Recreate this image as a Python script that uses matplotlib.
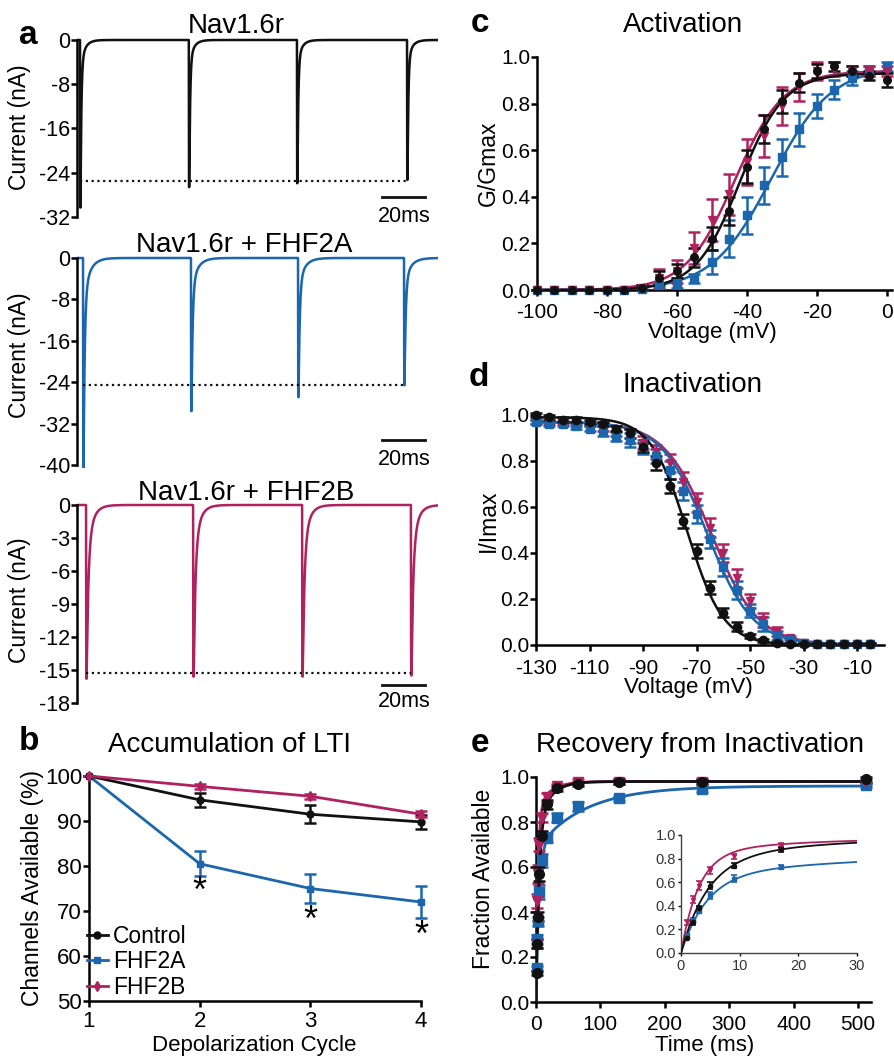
import numpy as np
import matplotlib
matplotlib.use("Agg")
import matplotlib.pyplot as plt
from matplotlib.lines import Line2D

plt.rcParams['font.family'] = ['Liberation Sans', 'DejaVu Sans']
plt.rcParams['axes.unicode_minus'] = False

W, H = 895, 1057
NEGRO = '#111111'
AZUL = '#1b66ad'
ROJO = '#b0225f'

# ---- a: trazos de corriente (ms, nA)
t_fin = 168
pulsos_ctrl = [1.4, 52.0, 102.3, 153.5]
picos_ctrl = [-30.3, -26.6, -25.9, -25.3]
pulsos_2a = [2.8, 53.0, 102.8, 152.1]
picos_2a = [-40.6, -29.6, -26.9, -24.6]
pulsos_2b = [4.2, 54.0, 104.7, 155.3]
picos_2b = [-15.8, -15.6, -15.6, -15.5]
nivel_ctrl, nivel_2a, nivel_2b = -25.5, -24.6, -15.3
# tau rapida, tau lenta, fraccion lenta
cinetica_ctrl = (0.4, 2.0, 0.10)
cinetica_2a = (0.55, 2.8, 0.14)
cinetica_2b = (0.8, 2.6, 0.22)

# ---- b: acumulacion de LTI
ciclos = [1, 2, 3, 4]
lti_ctrl = [100, 94.7, 91.5, 89.8]
lti_ctrl_err = [0, 1.5, 2.0, 1.5]
lti_2a = [100, 80.5, 75.0, 72.0]
lti_2a_err = [0, 2.8, 3.2, 3.5]
lti_2b = [100, 97.7, 95.5, 91.5]
lti_2b_err = [0, 0.5, 0.5, 0.7]
estrellas = [(2, 76.2), (3, 69.8), (4, 66.4)]

# ---- c: activacion
volt_act = list(range(-100, 5, 5))
act_ctrl = [0, 0, 0, 0, 0, 0, 0.01, 0.05, 0.08, 0.14, 0.22, 0.34, 0.53, 0.69, 0.81, 0.89, 0.94, 0.96, 0.94, 0.92, 0.90]
act_2a = [0, 0, 0, 0, 0, 0, 0.005, 0.02, 0.03, 0.05, 0.12, 0.22, 0.32, 0.45, 0.57, 0.69, 0.79, 0.86, 0.91, 0.94, 0.96]
act_2b = [0, 0, 0, 0, 0, 0, 0.01, 0.05, 0.08, 0.18, 0.30, 0.41, 0.55, 0.66, 0.79, 0.87, 0.94, 0.95, 0.94, 0.94, 0.94]
act_ctrl_err = [0]*6 + [0.01, 0.03, 0.03, 0.04, 0.05, 0.06, 0.07, 0.06, 0.05, 0.04, 0.03, 0.02, 0.02, 0.02, 0.03]
act_2a_err = [0]*6 + [0.005, 0.01, 0.02, 0.02, 0.05, 0.08, 0.08, 0.08, 0.08, 0.07, 0.05, 0.04, 0.03, 0.02, 0.02]
act_2b_err = [0]*6 + [0.01, 0.04, 0.05, 0.07, 0.09, 0.09, 0.10, 0.09, 0.08, 0.06, 0.04, 0.03, 0.02, 0.02, 0.02]
# Boltzmann: (max, V1/2, k)
ajuste_act_ctrl = (0.93, -42.0, 6.3)
ajuste_act_2a = (0.96, -33.0, 8.5)
ajuste_act_2b = (0.94, -43.5, 7.0)

# ---- d: inactivacion
volt_inact = list(range(-130, 0, 5))
inact_ctrl = [1.0, 0.99, 0.98, 0.98, 0.97, 0.96, 0.94, 0.92, 0.86, 0.79, 0.69, 0.54, 0.41, 0.25, 0.14, 0.08, 0.04, 0.02, 0.01, 0.005, 0.005, 0.005, 0.005, 0.005, 0.005, 0.005]
inact_2a = [0.97, 0.96, 0.96, 0.95, 0.94, 0.93, 0.905, 0.89, 0.86, 0.82, 0.76, 0.67, 0.57, 0.46, 0.34, 0.24, 0.15, 0.09, 0.04, 0.02, 0.01, 0.005, 0.005, 0.005, 0.005, 0.005]
inact_2b = [0.97, 0.97, 0.97, 0.96, 0.96, 0.95, 0.93, 0.91, 0.88, 0.84, 0.79, 0.71, 0.62, 0.51, 0.40, 0.29, 0.19, 0.11, 0.06, 0.03, 0.01, 0.005, 0.005, 0.005, 0.005, 0.005]
inact_ctrl_err = [0.01]*7 + [0.02, 0.02, 0.03, 0.03, 0.03, 0.03, 0.03, 0.02, 0.02, 0.01] + [0.005]*9
inact_2a_err = [0.01]*5 + [0.02, 0.02, 0.03, 0.03, 0.03, 0.04, 0.04, 0.04, 0.04, 0.04, 0.04, 0.03, 0.03, 0.02, 0.01] + [0.005]*6
inact_2b_err = [0.01]*5 + [0.02, 0.02, 0.03, 0.03, 0.03, 0.04, 0.04, 0.04, 0.04, 0.04, 0.04, 0.03, 0.03, 0.02, 0.01] + [0.005]*6
ajuste_inact_ctrl = (0.99, -73.5, 6.8)
ajuste_inact_2a = (0.97, -66.0, 8.5)
ajuste_inact_2b = (0.97, -64.5, 8.8)

# ---- e: recuperacion
tiempos_rec = [1, 2, 3, 5, 9, 17, 33, 65, 129, 257, 513]
rec_ctrl = [0.13, 0.26, 0.38, 0.57, 0.74, 0.88, 0.95, 0.97, 0.98, 0.98, 0.99]
rec_2a = [0.15, 0.28, 0.36, 0.49, 0.63, 0.73, 0.82, 0.87, 0.905, 0.945, 0.965]
rec_2b = [0.26, 0.45, 0.57, 0.70, 0.82, 0.91, 0.96, 0.98, 0.98, 0.98, 0.98]
rec_ctrl_err = [0.01, 0.02, 0.02, 0.03, 0.02, 0.02, 0.01, 0.01, 0.01, 0.01, 0.01]
rec_2a_err = [0.01, 0.02, 0.02, 0.03, 0.03, 0.02, 0.02, 0.02, 0.01, 0.01, 0.01]
rec_2b_err = [0.02, 0.03, 0.04, 0.03, 0.02, 0.02, 0.01, 0.01, 0.01, 0.01, 0.01]
# (a1, tau1, a2, tau2)
ajuste_rec_ctrl = (0.78, 4.5, 0.20, 20.0)
ajuste_rec_2a = (0.68, 4.5, 0.28, 75.0)
ajuste_rec_2b = (0.85, 3.0, 0.13, 20.0)

FS_TICK = 15
FS_XLAB = 16
FS_YLAB = 16.5
FS_TIT = 20

fig = plt.figure(figsize=(W / 100, H / 100), dpi=100)


def ubicar(xa, xb, pxa, pxb, ya, yb, pya, pyb, xlim, ylim):
    sx = (pxb - pxa) / (xb - xa)
    sy = (pyb - pya) / (yb - ya)
    izq = pxa + (xlim[0] - xa) * sx
    der = pxa + (xlim[1] - xa) * sx
    abajo = pya + (ylim[0] - ya) * sy
    arriba = pya + (ylim[1] - ya) * sy
    ax = fig.add_axes([izq / W, 1 - abajo / H, (der - izq) / W, (abajo - arriba) / H])
    ax.set_xlim(xlim)
    ax.set_ylim(ylim)
    return ax


def estilo(ax, lw=1.6, fs=FS_TICK, largo=4, pad=1, padx=None):
    ax.patch.set_alpha(0)
    for s in ['top', 'right']:
        ax.spines[s].set_visible(False)
    for s in ['left', 'bottom']:
        ax.spines[s].set_linewidth(lw)
    ax.tick_params(direction='out', length=largo, width=lw, labelsize=fs, pad=pad)
    if padx is not None:
        ax.tick_params(axis='x', pad=padx)


def texto(px, py, s, **kw):
    fig.text(px / W, 1 - py / H, s, **kw)


def trazo(pulsos, picos, cin):
    t = np.arange(0, t_fin, 0.01)
    i = np.zeros_like(t)
    tf, ts, fs = cin
    for t0, pk in zip(pulsos, picos):
        d = t[t > t0] - t0
        forma = (1 - np.exp(-d / 0.08)) * ((1 - fs) * np.exp(-d / tf) + fs * np.exp(-d / ts))
        i[t > t0] += pk * forma / forma.max()
    return t, i


def boltz_act(v, p):
    return p[0] / (1 + np.exp((p[1] - v) / p[2]))


def boltz_inact(v, p):
    return p[0] / (1 + np.exp((v - p[1]) / p[2]))


def biexp(t, p):
    return p[0] * (1 - np.exp(-t / p[1])) + p[2] * (1 - np.exp(-t / p[3]))


# ================= a =================
trazos = [
    (pulsos_ctrl, picos_ctrl, cinetica_ctrl, nivel_ctrl, NEGRO, (40, 217, -32), (-32.6, 0.8), [0, -8, -16, -24, -32], (-28.4, -30.0)),
    (pulsos_2a, picos_2a, cinetica_2a, nivel_2a, AZUL, (258, 465, -40), (-40.6, 0.8), [0, -8, -16, -24, -32, -40], (-35.2, -36.9)),
    (pulsos_2b, picos_2b, cinetica_2b, nivel_2b, ROJO, (505, 703, -18), (-18.3, 0.4), [0, -3, -6, -9, -12, -15, -18], (-16.4, -16.9)),
]
for pulsos, picos, cin, nivel, color, (p0, p1, vmin), ylim, ticks, (ybar, ytxt) in trazos:
    ax = ubicar(0, 100, 77, 292, 0, vmin, p0, p1, (0, t_fin), ylim)
    estilo(ax, lw=1.8, fs=15.5)
    ax.spines['bottom'].set_visible(False)
    ax.spines['left'].set_bounds(vmin, 0)
    ax.set_xticks([])
    ax.set_yticks(ticks)
    t, i = trazo(pulsos, picos, cin)
    ax.plot(t, i, color=color, lw=1.8)
    ax.plot([pulsos[0], pulsos[-1]], [nivel, nivel], color=NEGRO, lw=1.6, ls=(0, (1, 1.6)))
    ax.plot([142, 162], [ybar, ybar], color=NEGRO, lw=2)
    ax.text(152, ytxt, '20ms', ha='center', va='top', fontsize=15.5)

texto(28, 36, 'a', fontsize=24, fontweight='bold', ha='center', va='center')
texto(236, 33, 'Nav1.6r', fontsize=FS_TIT, ha='center', va='baseline')
texto(244, 252, 'Nav1.6r + FHF2A', fontsize=FS_TIT, ha='center', va='baseline')
texto(246, 500, 'Nav1.6r + FHF2B', fontsize=FS_TIT, ha='center', va='baseline')
for yc in [127, 355, 600]:
    texto(20, yc, 'Current (nA)', fontsize=FS_YLAB, rotation=90, ha='center', va='center')

# ================= b =================
ax = ubicar(1, 4, 89, 421, 100, 50, 776, 1001, (1, 4), (50, 100))
estilo(ax, lw=1.8, fs=16, padx=3)
ax.set_xticks(ciclos)
ax.set_yticks([50, 60, 70, 80, 90, 100])
for y, e, c, m, ms in [(lti_2a, lti_2a_err, AZUL, 's', 5), (lti_ctrl, lti_ctrl_err, NEGRO, 'o', 5),
                       (lti_2b, lti_2b_err, ROJO, 'd', 5)]:
    ax.errorbar(ciclos, y, yerr=e, color=c, marker=m, ms=ms, lw=2, elinewidth=1.8,
                capsize=4, capthick=1.8, clip_on=False, zorder=3)
for x, y in estrellas:
    # el asterisco queda alto en la fuente: se baja la linea base
    ax.text(x, y - 4.2, '*', fontsize=26, ha='center', va='baseline')
manejadores = [Line2D([], [], color=NEGRO, marker='o', ms=5, lw=2),
               Line2D([], [], color=AZUL, marker='s', ms=5, lw=2),
               Line2D([], [], color=ROJO, marker='d', ms=5, lw=2)]
ax.legend(manejadores, ['Control', 'FHF2A', 'FHF2B'], loc='lower left', bbox_to_anchor=(-0.02, -0.01),
          frameon=False, fontsize=16.5, handlelength=0.9, handletextpad=0.25, labelspacing=0.1,
          borderpad=0.1, borderaxespad=0.1)
texto(29, 742, 'b', fontsize=24, fontweight='bold', ha='center', va='center')
texto(230, 752, 'Accumulation of LTI', fontsize=FS_TIT, ha='center', va='baseline')
texto(33, 888, 'Channels Available (%)', fontsize=FS_YLAB, rotation=90, ha='center', va='center')
texto(254, 1045, 'Depolarization Cycle', fontsize=FS_XLAB, ha='center', va='center')

# ================= c =================
ax = ubicar(-100, 0, 537, 887, 0, 1, 290, 57, (-100, 1.5), (0, 1))
estilo(ax, lw=1.8, padx=5)
ax.set_xticks([-100, -80, -60, -40, -20, 0])
ax.set_yticks([0, 0.2, 0.4, 0.6, 0.8, 1.0])
ax.set_yticklabels(['0.0', '0.2', '0.4', '0.6', '0.8', '1.0'])
vv = np.linspace(-100, 0, 400)
for y, e, p, c, m in [(act_2a, act_2a_err, ajuste_act_2a, AZUL, 's'),
                      (act_2b, act_2b_err, ajuste_act_2b, ROJO, 'v'),
                      (act_ctrl, act_ctrl_err, ajuste_act_ctrl, NEGRO, 'o')]:
    ax.errorbar(volt_act, y, yerr=e, color=c, marker=m, ms=5.5, ls='none', elinewidth=1.8,
                capsize=4, capthick=1.8, clip_on=False, zorder=3)
    ax.plot(vv, boltz_act(vv, p), color=c, lw=1.8, zorder=3)
texto(480, 24, 'c', fontsize=24, fontweight='bold', ha='center', va='center')
texto(683, 32, 'Activation', fontsize=FS_TIT, ha='center', va='baseline')
texto(488, 163, 'G/Gmax', fontsize=FS_YLAB, rotation=90, ha='center', va='center')
texto(712, 333, 'Voltage (mV)', fontsize=FS_XLAB, ha='center', va='center')

# ================= d =================
ax = ubicar(-130, -10, 536, 857, 0, 1, 645, 415, (-130, 0), (0, 1))
estilo(ax, lw=1.8, padx=6)
ax.set_xticks([-130, -110, -90, -70, -50, -30, -10])
ax.set_yticks([0, 0.2, 0.4, 0.6, 0.8, 1.0])
ax.set_yticklabels(['0.0', '0.2', '0.4', '0.6', '0.8', '1.0'])
vv = np.linspace(-130, -5, 400)
for y, e, p, c, m in [(inact_2b, inact_2b_err, ajuste_inact_2b, ROJO, 'v'),
                      (inact_2a, inact_2a_err, ajuste_inact_2a, AZUL, 's'),
                      (inact_ctrl, inact_ctrl_err, ajuste_inact_ctrl, NEGRO, 'o')]:
    ax.errorbar(volt_inact, y, yerr=e, color=c, marker=m, ms=6, ls='none', elinewidth=1.8,
                capsize=4, capthick=1.8, clip_on=False, zorder=3)
    ax.plot(vv, boltz_inact(vv, p), color=c, lw=1.8, zorder=3)
texto(479, 378, 'd', fontsize=24, fontweight='bold', ha='center', va='center')
texto(693, 392, 'Inactivation', fontsize=FS_TIT, ha='center', va='baseline')
texto(488, 521, 'I/Imax', fontsize=FS_YLAB, rotation=90, ha='center', va='center')
texto(688, 688, 'Voltage (mV)', fontsize=FS_XLAB, ha='center', va='center')

# ================= e =================
ax = ubicar(0, 500, 536, 858, 0, 1, 1002, 777, (0, 520), (0, 1))
estilo(ax, lw=1.8, padx=5)
ax.set_xticks([0, 100, 200, 300, 400, 500])
ax.set_yticks([0, 0.2, 0.4, 0.6, 0.8, 1.0])
ax.set_yticklabels(['0.0', '0.2', '0.4', '0.6', '0.8', '1.0'])
tt = np.linspace(0, 515, 2000)
serie_rec = [(rec_2a, rec_2a_err, ajuste_rec_2a, AZUL, 's'),
             (rec_2b, rec_2b_err, ajuste_rec_2b, ROJO, 'v'),
             (rec_ctrl, rec_ctrl_err, ajuste_rec_ctrl, NEGRO, 'o')]
for y, e, p, c, m in serie_rec:
    ax.errorbar(tiempos_rec, y, yerr=e, color=c, marker=m, ms=7, ls='none', elinewidth=1.8,
                capsize=4, capthick=1.8, clip_on=False, zorder=3)
    ax.plot(tt, biexp(tt, p), color=c, lw=2, zorder=3)
texto(480, 744, 'e', fontsize=24, fontweight='bold', ha='center', va='center')
texto(700, 752, 'Recovery from Inactivation', fontsize=FS_TIT, ha='center', va='baseline')
texto(484, 879, 'Fraction Available', fontsize=FS_YLAB, rotation=90, ha='center', va='center')
texto(705, 1046, 'Time (ms)', fontsize=FS_XLAB, ha='center', va='center')

# inserto
ax = ubicar(0, 30, 681, 857, 0, 1, 953, 835, (0, 30), (0, 1))
estilo(ax, lw=1.0, fs=10.5, largo=2.5, pad=1, padx=2)
ax.spines['left'].set_color('#444444')
ax.spines['bottom'].set_color('#444444')
ax.tick_params(labelcolor='#333333')
ax.set_xticks([0, 10, 20, 30])
ax.set_yticks([0, 0.2, 0.4, 0.6, 0.8, 1.0])
ax.set_yticklabels(['0.0', '0.2', '0.4', '0.6', '0.8', '1.0'])
tt = np.linspace(0, 30, 400)
for y, e, p, c, m in serie_rec:
    n = 6
    ax.errorbar(tiempos_rec[:n], y[:n], yerr=e[:n], color=c, marker=m, ms=3, ls='none', elinewidth=1.2,
                capsize=2, capthick=1.2, zorder=3)
    ax.plot(tt, biexp(tt, p), color=c, lw=1.3, zorder=3)

fig.savefig('out.png', dpi=100)
